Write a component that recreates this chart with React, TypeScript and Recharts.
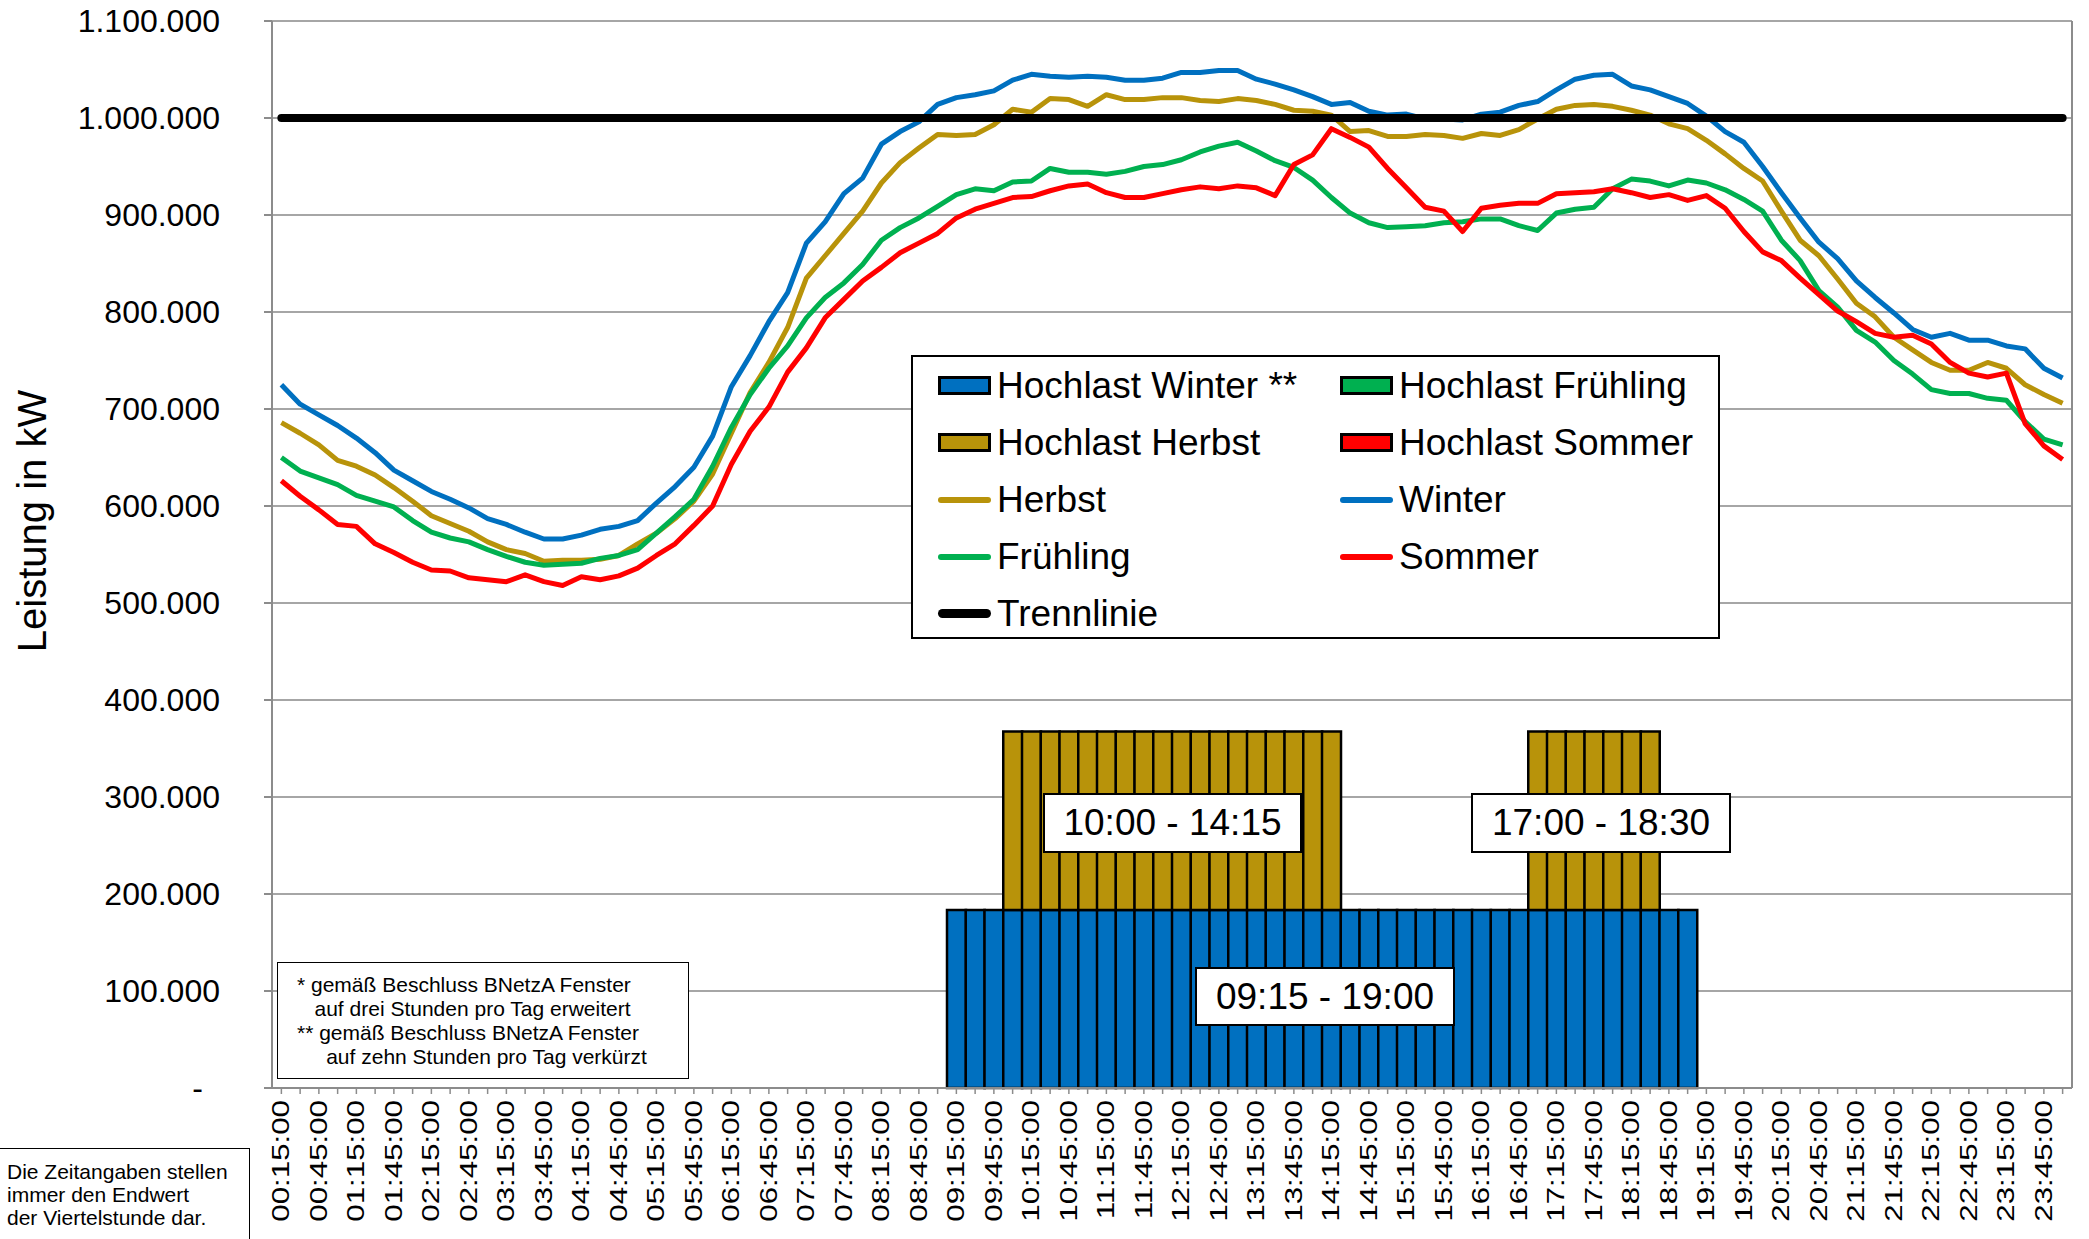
import React from 'react';
import { ComposedChart, Line, Bar, XAxis, YAxis, CartesianGrid, Legend } from 'recharts';

// quarter-hour end times 00:15 ... 24:00 (shown as 00:00)
const times = Array.from({ length: 96 }, (_, i) => {
  const m = ((i + 1) * 15) % 1440;
  const hh = String(Math.floor(m / 60)).padStart(2, '0');
  const mm = String(m % 60).padStart(2, '0');
  return `${hh}:${mm}:00`;
});

const winter = [
  725, 705, 694, 683, 670, 655, 637, 626, 615, 607, 598, 587, 581, 573, 566, 566, 570, 576, 579, 585, 603, 620, 640, 672,
  723, 755, 790, 820, 871, 893, 922, 938, 973, 986, 996, 1014, 1021, 1024, 1028, 1039, 1045, 1043, 1042, 1043, 1042, 1039, 1039, 1041,
  1047, 1047, 1049, 1049, 1040, 1035, 1029, 1022, 1014, 1016, 1007, 1003, 1004, 999, 999, 998, 1004, 1006, 1013, 1017, 1029, 1040, 1044, 1045,
  1033, 1029, 1022, 1015, 1002, 986, 975, 950, 923, 897, 872, 855, 832, 815, 799, 782, 774, 778, 771, 771, 765, 762, 742, 732,
];

const herbst = [
  686, 675, 663, 647, 641, 632, 619, 605, 590, 582, 574, 563, 555, 551, 543, 544, 544, 545, 549, 561, 572, 587, 605, 633,
  675, 717, 748, 784, 835, 858, 881, 904, 933, 954, 969, 983, 982, 983, 993, 1009, 1006, 1020, 1019, 1012, 1024, 1019, 1019, 1021,
  1021, 1018, 1017, 1020, 1018, 1014, 1008, 1007, 1003, 986, 987, 981, 981, 983, 982, 979, 984, 982, 988, 999, 1009, 1013, 1014, 1012,
  1008, 1003, 994, 989, 977, 963, 948, 935, 904, 874, 858, 834, 809, 795, 774, 761, 748, 740, 740, 748, 742, 725, 715, 706,
];

const fruehling = [
  650, 636, 629, 622, 611, 605, 599, 585, 573, 567, 563, 555, 548, 542, 539, 540, 541, 546, 549, 555, 572, 589, 607, 641,
  681, 715, 742, 765, 794, 815, 830, 849, 874, 887, 897, 909, 921, 927, 925, 934, 935, 948, 944, 944, 942, 945, 950, 952,
  957, 965, 971, 975, 966, 956, 949, 936, 918, 902, 892, 887, 888, 889, 892, 893, 896, 896, 889, 884, 902, 906, 908, 927,
  937, 935, 930, 936, 933, 926, 916, 904, 874, 853, 822, 805, 781, 769, 750, 736, 720, 716, 716, 711, 709, 687, 669, 663,
];

const sommer = [
  626, 610, 596, 581, 579, 561, 552, 542, 534, 533, 526, 524, 522, 529, 522, 518, 527, 524, 528, 536, 549, 561, 580, 600,
  643, 677, 702, 738, 763, 794, 813, 832, 846, 861, 871, 881, 897, 906, 912, 918, 919, 925, 930, 932, 923, 918, 918, 922,
  926, 929, 927, 930, 928, 920, 952, 962, 989, 980, 970, 948, 928, 908, 904, 883, 907, 910, 912, 912, 922, 923, 924, 927,
  923, 918, 921, 915, 920, 907, 883, 862, 853, 835, 818, 801, 790, 778, 774, 776, 767, 748, 737, 733, 737, 685, 662, 648,
];

const trennlinie = 1000000;

// Hochlastzeitfenster (first and last quarter hour, end values)
const winterWindows = [['09:15:00', '19:00:00']];
const herbstWindows = [['10:00:00', '14:15:00'], ['17:00:00', '18:30:00']];
const winterLevel = 183500;
const herbstLevel = 184000;

const yTicks = [0, 100000, 200000, 300000, 400000, 500000, 600000, 700000, 800000, 900000, 1000000, 1100000];

const C = {
  winter: '#0070C0',
  herbst: '#B8930A',
  fruehling: '#00B050',
  sommer: '#FF0000',
  trenn: '#000000',
  grid: '#A6A6A6',
  axis: '#8C8C8C',
};

const FONT = '"Liberation Sans", Arial, sans-serif';

const inWindows = (i: number, wins: string[][]) =>
  wins.some(([a, b]) => i >= times.indexOf(a) && i <= times.indexOf(b));

const data = times.map((t, i) => ({
  time: t,
  hlWinter: inWindows(i, winterWindows) ? winterLevel : null,
  hlHerbst: inWindows(i, herbstWindows) ? herbstLevel : null,
  herbst: herbst[i] * 1000,
  winter: winter[i] * 1000,
  fruehling: fruehling[i] * 1000,
  sommer: sommer[i] * 1000,
  trenn: trennlinie,
}));

const legendItems = [
  { label: 'Hochlast Winter **', color: C.winter, kind: 'box' },
  { label: 'Hochlast Frühling', color: C.fruehling, kind: 'box' },
  { label: 'Hochlast Herbst', color: C.herbst, kind: 'box' },
  { label: 'Hochlast Sommer', color: C.sommer, kind: 'box' },
  { label: 'Herbst', color: C.herbst, kind: 'line' },
  { label: 'Winter', color: C.winter, kind: 'line' },
  { label: 'Frühling', color: C.fruehling, kind: 'line' },
  { label: 'Sommer', color: C.sommer, kind: 'line' },
  { label: 'Trennlinie', color: C.trenn, kind: 'thick' },
];

const fmt = (v: number) => (v === 0 ? '-' : String(v).replace(/\B(?=(\d{3})+(?!\d))/g, '.'));

const YTick = (props: any) => {
  const { x, y, payload } = props;
  return (
    <text x={payload.value === 0 ? x - 17 : x} y={y} textAnchor="end" dominantBaseline="central" fontSize={32} fill="#000" fontFamily={FONT}>
      {fmt(payload.value)}
    </text>
  );
};

const XTick = (props: any) => {
  const { x, y, payload, index } = props;
  if (index % 2 !== 0) return null;
  return (
    <text
      transform={`translate(${x},${y}) rotate(-90) scale(1.36,1)`}
      textAnchor="end"
      dominantBaseline="central"
      fontSize={23}
      fill="#000"
      fontFamily={FONT}
    >
      {payload.value}
    </text>
  );
};

const LegendBox = () => (
  <div
    style={{
      width: 809,
      height: 284,
      boxSizing: 'border-box',
      border: '2px solid #000',
      background: '#fff',
      display: 'grid',
      gridTemplateColumns: '402px 380px',
      gridAutoRows: '57px',
      paddingLeft: 25,
      fontFamily: FONT,
      fontSize: 37,
      color: '#000',
    }}
  >
    {legendItems.map((it) => (
      <div key={it.label} style={{ display: 'flex', alignItems: 'center', whiteSpace: 'nowrap' }}>
        {it.kind === 'box' ? (
          <span style={{ width: 53, height: 19, boxSizing: 'border-box', border: '3px solid #000', background: it.color, marginRight: 6 }} />
        ) : (
          <span
            style={{
              width: 53,
              height: it.kind === 'thick' ? 9 : 6,
              borderRadius: 5,
              background: it.color,
              marginRight: 6,
            }}
          />
        )}
        <span>{it.label}</span>
      </div>
    ))}
  </div>
);

const boxStyle: React.CSSProperties = {
  position: 'absolute',
  boxSizing: 'border-box',
  border: '2px solid #000',
  background: '#fff',
  display: 'flex',
  alignItems: 'center',
  justifyContent: 'center',
  fontFamily: FONT,
  fontSize: 37,
  color: '#000',
  whiteSpace: 'nowrap',
};

export default function App() {
  return (
    <div style={{ position: 'absolute', left: 0, top: 0, width: 2089, height: 1239, background: '#fff', overflow: 'hidden', fontFamily: FONT }}>
      <ComposedChart
        width={2089}
        height={1239}
        data={data}
        margin={{ top: 21, right: 0, bottom: 0, left: 0 }}
        barCategoryGap={0}
        barGap={0}
      >
        <CartesianGrid vertical={false} stroke={C.grid} strokeWidth={2} />
        <XAxis
          dataKey="time"
          interval={0}
          height={151}
          tick={XTick}
          tickSize={6}
          tickMargin={6}
          tickLine={{ stroke: C.axis, strokeWidth: 1.5 }}
          axisLine={{ stroke: C.axis, strokeWidth: 2 }}
        />
        <YAxis
          width={272}
          domain={[0, 1100000]}
          ticks={yTicks}
          tick={YTick}
          tickSize={8}
          tickMargin={44}
          tickLine={{ stroke: C.axis, strokeWidth: 2 }}
          axisLine={{ stroke: C.axis, strokeWidth: 2 }}
          label={{
            content: () => (
              <text x={32} y={521} transform="rotate(-90, 32, 521)" textAnchor="middle" dominantBaseline="central" fontSize={40} fill="#000" fontFamily={FONT}>
                Leistung in kW
              </text>
            ),
          }}
        />
        <YAxis yAxisId="right" orientation="right" width={17} domain={[0, 1100000]} tick={false} tickLine={false} axisLine={{ stroke: C.axis, strokeWidth: 2 }} />
        <Legend
          layout="vertical"
          align="center"
          verticalAlign="middle"
          content={LegendBox}
          wrapperStyle={{ position: 'absolute', left: 911, top: 355, width: 809, height: 284 }}
        />
        <Bar dataKey="hlWinter" stackId="h" fill={C.winter} stroke="#000" strokeWidth={2.5} isAnimationActive={false} />
        <Bar dataKey="hlHerbst" stackId="h" fill={C.herbst} stroke="#000" strokeWidth={2.5} isAnimationActive={false} />
        <Line type="linear" dataKey="herbst" stroke={C.herbst} strokeWidth={5} dot={false} activeDot={false} strokeLinejoin="round" isAnimationActive={false} />
        <Line type="linear" dataKey="winter" stroke={C.winter} strokeWidth={5} dot={false} activeDot={false} strokeLinejoin="round" isAnimationActive={false} />
        <Line type="linear" dataKey="fruehling" stroke={C.fruehling} strokeWidth={5} dot={false} activeDot={false} strokeLinejoin="round" isAnimationActive={false} />
        <Line type="linear" dataKey="sommer" stroke={C.sommer} strokeWidth={5} dot={false} activeDot={false} strokeLinejoin="round" isAnimationActive={false} />
        <Line type="linear" dataKey="trenn" stroke={C.trenn} strokeWidth={8} strokeLinecap="round" dot={false} activeDot={false} isAnimationActive={false} />
      </ComposedChart>

      <div style={{ ...boxStyle, left: 1043, top: 793, width: 259, height: 60 }}>10:00 - 14:15</div>
      <div style={{ ...boxStyle, left: 1471, top: 793, width: 260, height: 60 }}>17:00 - 18:30</div>
      <div style={{ ...boxStyle, left: 1195, top: 967, width: 260, height: 59 }}>09:15 - 19:00</div>

      <div
        style={{
          position: 'absolute', left: 277, top: 962, width: 412, height: 117, boxSizing: 'border-box',
          border: '1.5px solid #000', background: '#fff', fontSize: 21, lineHeight: '24px',
          padding: '10px 0 0 19px', whiteSpace: 'pre', color: '#000',
        }}
      >
        {'* gemäß Beschluss BNetzA Fenster\n   auf drei Stunden pro Tag erweitert\n** gemäß Beschluss BNetzA Fenster\n     auf zehn Stunden pro Tag verkürzt'}
      </div>

      <div
        style={{
          position: 'absolute', left: -2, top: 1148, width: 252, height: 110, boxSizing: 'border-box',
          border: '1.5px solid #000', background: '#fff', fontSize: 21, lineHeight: '23px',
          padding: '11px 0 0 8px', whiteSpace: 'pre', color: '#000',
        }}
      >
        {'Die Zeitangaben stellen\nimmer den Endwert\nder Viertelstunde dar.'}
      </div>
    </div>
  );
}
